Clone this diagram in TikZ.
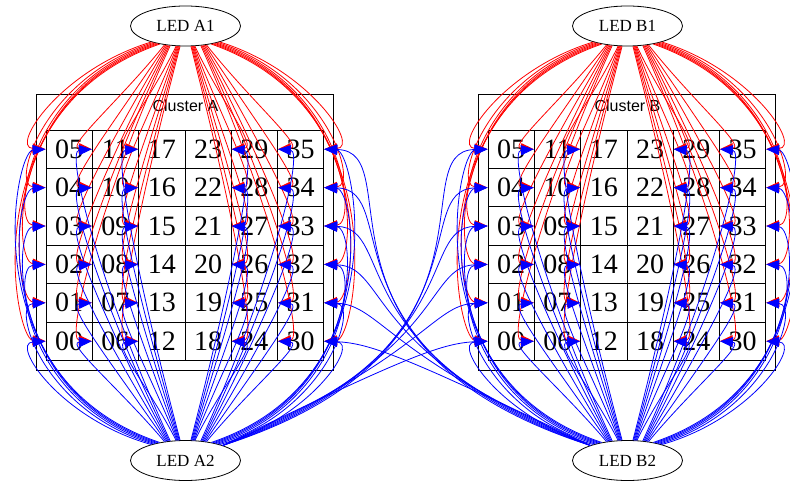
\documentclass[tikz,border=0pt]{standalone}
\usepackage{fontspec}
\setmainfont{Liberation Serif}
\newfontfamily\titlefont{Liberation Sans}
\usetikzlibrary{arrows.meta,shapes.geometric}
\begin{document}
\begin{tikzpicture}[x=1pt,y=-1pt,
  led/.style={draw, ellipse, minimum width=110pt, minimum height=40pt, inner sep=0pt, line width=0.8pt, font=\fontsize{17}{17}\selectfont},
  cell/.style={draw, rectangle, minimum width=46.3pt, minimum height=38.4pt, inner sep=0pt, line width=0.8pt, font=\fontsize{28}{28}\selectfont},
  clusterframe/.style={draw, line width=0.8pt},
  clustertitle/.style={inner sep=0pt, font=\titlefont\fontsize{16}{16}\selectfont},
  wire/.style={line width=0.8pt, -{Triangle[length=13pt,width=10pt]}},
  redwire/.style={wire, red},
  bluewire/.style={wire, blue},
]
\path[fill=white] (0,0) rectangle (790,481);
\useasboundingbox (0,0) rectangle (790,481);

% two clusters: frame, title, LEDs and the 6x6 grid of cells
\foreach \clu/\dx in {A/0,B/442}{
  \draw[clusterframe] (\dx+36.7,94) rectangle (\dx+333.3,370);
  \node[clustertitle] (\clu-title) at (\dx+185.5,106) {Cluster \clu};
  \node[led] (\clu1) at (\dx+185.5,26) {LED \clu1};
  \node[led] (\clu2) at (\dx+185.5,460.5) {LED \clu2};
  \foreach \cc in {0,...,5}{
    \foreach \rr in {0,...,5}{
      \pgfmathtruncatemacro\nn{6*\cc+5-\rr}
      \node[cell] (\clu-\nn) at (\dx+69.15+46.3*\cc, 149.2+38.4*\rr) {\ifnum\nn<10 0\fi\nn};
    }
  }
}

% red wires: top LED to every cell (west side for the left half, east side for the right half)
\foreach \clu/\dx in {A/0,B/442}{
  \foreach \cc in {0,...,5}{
    \foreach \rr in {0,...,5}{
      \pgfmathtruncatemacro\nn{6*\cc+5-\rr}
      \ifnum\cc<3
        \pgfmathtruncatemacro\grp{\cc}\def\sx{1}\def\sd{west}
        \pgfmathsetmacro\px{\dx+46+46.3*\cc}
      \else
        \pgfmathtruncatemacro\grp{5-\cc}\def\sx{-1}\def\sd{east}
        \pgfmathsetmacro\px{\dx+46+46.3*(\cc+1)}
      \fi
      \pgfmathsetmacro\py{149.2+38.4*\rr}
      \pgfmathsetmacro\Xa{\grp==0 ? 60-18*\rr : (\grp==1 ? 120-4*\rr : 150-2*\rr)}
      \pgfmathsetmacro\Ya{\grp==0 ? 70+8*\rr : 100+20*\rr}
      \pgfmathsetmacro\hh{\grp==0 ? 36-\rr : 27}
      \pgfmathsetmacro\Cax{\dx + (\sx>0 ? \Xa : 370-\Xa)}
      \pgfmathsetmacro\Cbx{\px - (\sx)*\hh}
      \pgfmathsetmacro\Cby{\py - 2}
      \pgfmathsetmacro\th{\grp==0 ? 205+2*\rr : (\grp==1 ? 222+2*\rr : 245+2*\rr)}
      \pgfmathtruncatemacro\ang{\sx>0 ? \th : mod(540-\th,360)}
      \draw[redwire] (\clu1.\ang) .. controls (\Cax,\Ya) and (\Cbx,\Cby) .. (\clu-\nn.\sd);
    }
  }
}

% blue wires: bottom LED to every cell
\foreach \clu/\dx in {A/0,B/442}{
  \foreach \cc in {0,...,5}{
    \foreach \rr in {0,...,5}{
      \pgfmathtruncatemacro\nn{6*\cc+5-\rr}
      \pgfmathtruncatemacro\kk{5-\rr}
      \ifnum\cc<3
        \pgfmathtruncatemacro\grp{\cc}\def\sx{1}\def\sd{west}
        \pgfmathsetmacro\px{\dx+46+46.3*\cc}
      \else
        \pgfmathtruncatemacro\grp{5-\cc}\def\sx{-1}\def\sd{east}
        \pgfmathsetmacro\px{\dx+46+46.3*(\cc+1)}
      \fi
      \pgfmathsetmacro\py{149.2+38.4*\rr}
      \pgfmathsetmacro\Xa{\grp==0 ? 60-18*\kk : (\grp==1 ? 120-4*\kk : 150-2*\kk)}
      \pgfmathsetmacro\Ya{489-(\grp==0 ? 70+8*\kk : 100+20*\kk)}
      \pgfmathsetmacro\hh{\grp==0 ? 36-\kk : 27}
      \pgfmathsetmacro\Cax{\dx + (\sx>0 ? \Xa : 370-\Xa)}
      \pgfmathsetmacro\Cbx{\px - (\sx)*\hh}
      \pgfmathsetmacro\Cby{\py + 2}
      \pgfmathsetmacro\th{\grp==0 ? 205+2*\kk : (\grp==1 ? 222+2*\kk : 245+2*\kk)}
      \pgfmathtruncatemacro\ang{\sx>0 ? 360-\th : \th-180}
      \draw[bluewire] (\clu2.\ang) .. controls (\Cax,\Ya) and (\Cbx,\Cby) .. (\clu-\nn.\sd);
    }
  }
}

% blue wires crossing between the clusters
\foreach \rr in {0,...,5}{
  \pgfmathtruncatemacro\nB{5-\rr}
  \pgfmathtruncatemacro\nA{35-\rr}
  \pgfmathsetmacro\py{149.2+38.4*\rr}
  \draw[bluewire] (A2.22) .. controls (520-24*\rr, 350+2*\rr) and (400+8*\rr, \py+2) .. (B-\nB.west);
  \draw[bluewire] (B2.158) .. controls (292+24*\rr, 350+2*\rr) and (412-8*\rr, \py+2) .. (A-\nA.east);
}
\end{tikzpicture}
\end{document}
